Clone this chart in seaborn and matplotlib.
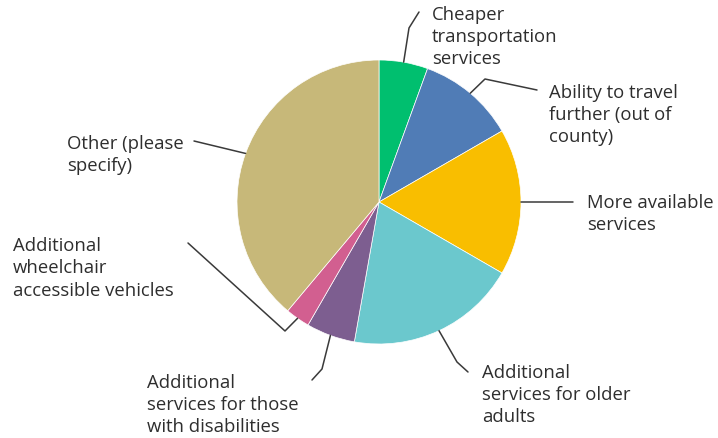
import numpy as np
import matplotlib
matplotlib.use("Agg")
import matplotlib.pyplot as plt
import seaborn as sns

# Survey responses: which improvements would help most
categories = [
    "Cheaper\ntransportation\nservices",
    "Ability to travel\nfurther (out of\ncounty)",
    "More available\nservices",
    "Additional\nservices for older\nadults",
    "Additional\nservices for those\nwith disabilities",
    "Additional\nwheelchair\naccessible vehicles",
    "Other (please\nspecify)",
]
responses = [2, 4, 6, 7, 2, 1, 14]
slice_colors = ["#00BF6F", "#507CB6", "#F9BE00", "#6BC8CD", "#7D5E90", "#D25F90", "#C7B879"]

sns.set_theme(style="white")
plt.rcParams["font.family"] = ["Open Sans", "DejaVu Sans"]

W, H = 718, 438
fig = plt.figure(figsize=(W / 100, H / 100), dpi=100)
ax = fig.add_axes([0, 0, 1, 1])

# work in pixel-like units: x to the right, y measured downward from the top
cx, cy, R = 379, 202, 142
wedges, _ = ax.pie(
    responses,
    colors=sns.color_palette(slice_colors),
    startangle=90,
    counterclock=False,
    radius=R,
    center=(cx, H - cy),
    wedgeprops=dict(linewidth=0.5, edgecolor="white"),
)
ax.set_xlim(0, W)
ax.set_ylim(0, H)
ax.set_aspect("equal")
ax.axis("off")

txt_color = "#2e2e2e"
line_color = "#3a3a3a"
font_size = 13.3
line_pitch = 22.5  # distance between label lines, in pixels

# label anchor (left edge, first-line baseline) and leader route for each slice
layout = [
    dict(text=(432, 19.5), route=[(409, 28), (419, 12)]),
    dict(text=(549, 97), route=[(485, 79), (537, 90)]),
    dict(text=(587, 208), route=[(573, 202)]),
    dict(text=(482, 377.5), route=[(457, 362), (468, 372)]),
    dict(text=(147, 387.5), route=[(322, 369), (312, 380)]),
    dict(text=(13, 250.5), route=[(285, 331), (188, 243)]),
    dict(text=(67, 148.5), route=[(194, 141)]),
]

for wedge, label, spec in zip(wedges, categories, layout):
    mid = np.deg2rad((wedge.theta1 + wedge.theta2) / 2)
    ex = cx + R * np.cos(mid)
    ey = cy - R * np.sin(mid)
    pts = [(ex, ey)] + spec["route"]
    xs = [p[0] for p in pts]
    ys = [H - p[1] for p in pts]
    ax.plot(xs, ys, color=line_color, lw=1.1, solid_capstyle="round",
            solid_joinstyle="round")
    tx, ty = spec["text"]
    n_lines = label.count("\n") + 1
    ax.text(tx, H - (ty + (n_lines - 1) * line_pitch), label, ha="left",
            va="baseline", fontsize=font_size, color=txt_color,
            linespacing=1.30, fontweight="medium")

fig.savefig("out.png", dpi=100, facecolor="white")
